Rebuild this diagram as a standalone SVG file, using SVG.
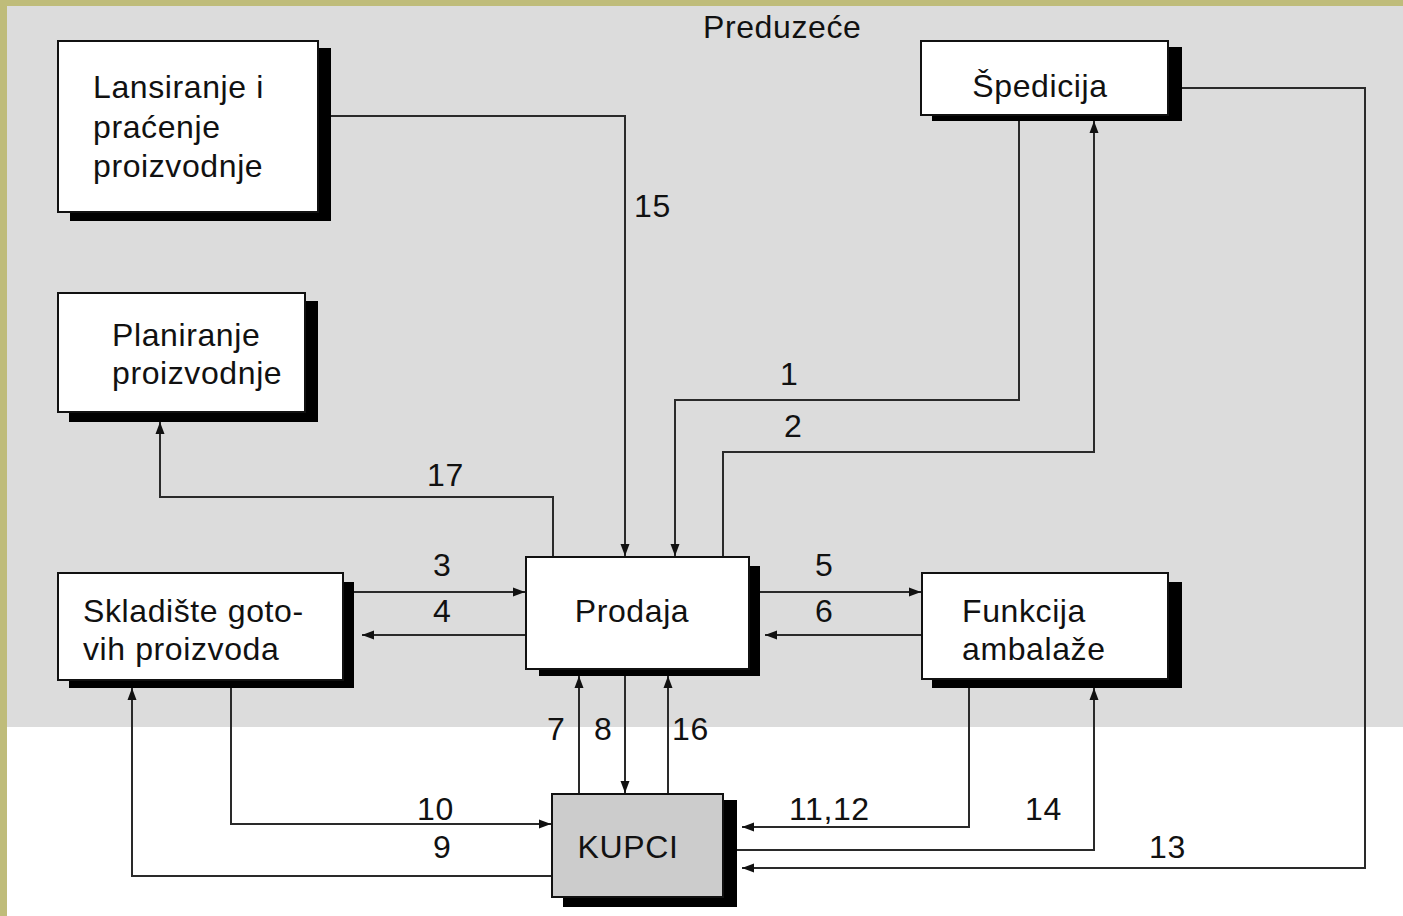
<svg xmlns="http://www.w3.org/2000/svg" width="1403" height="916" viewBox="0 0 1403 916">
<defs>
<marker id="arr" markerUnits="userSpaceOnUse" markerWidth="13" markerHeight="11" refX="12" refY="5.5" orient="auto">
<path d="M0,1 L12,5.5 L0,10 z" fill="#111"/>
</marker>
<style>
.box{fill:#fff;stroke:#111;stroke-width:2}
.kup{fill:#ccc;stroke:#111;stroke-width:2}
.sh{fill:#000}
.t{font-family:"Liberation Sans",Arial,sans-serif;font-size:32px;fill:#111;letter-spacing:0.6px}
.c{fill:none;stroke:#2a2a2a;stroke-width:2;marker-end:url(#arr)}
</style>
</defs>
<rect x="0" y="0" width="1403" height="916" fill="#BFBC7A"/>
<rect x="7" y="6" width="1396" height="721" fill="#DCDCDC"/>
<rect x="7" y="727" width="1396" height="189" fill="#FFFFFF"/>
<text class="t" x="703" y="38">Preduzeće</text>

<g id="connectors">
<path class="c" d="M331,116 H625 V556"/>
<path class="c" d="M1019,121 V400 H675 V556"/>
<path class="c" d="M723,556 V452 H1094 V121"/>
<path class="c" d="M553,556 V497 H160 V422"/>
<path class="c" d="M354,592 H525"/>
<path class="c" d="M525,635 H362"/>
<path class="c" d="M760,592 H921"/>
<path class="c" d="M921,635 H765"/>
<path class="c" d="M579,793 V676"/>
<path class="c" d="M625,669 V793"/>
<path class="c" d="M668,793 V676"/>
<path class="c" d="M231,688 V824 H551"/>
<path class="c" d="M551,876 H132 V688"/>
<path class="c" d="M969,688 V827 H742"/>
<path class="c" d="M737,850 H1094 V688"/>
<path class="c" d="M1182,88 H1365 V868 H742"/>
<text class="t" x="634" y="217">15</text>
<text class="t" x="780" y="385">1</text>
<text class="t" x="784" y="437">2</text>
<text class="t" x="427" y="486">17</text>
<text class="t" x="433" y="576">3</text>
<text class="t" x="433" y="622">4</text>
<text class="t" x="815" y="576">5</text>
<text class="t" x="815" y="622">6</text>
<text class="t" x="547" y="740">7</text>
<text class="t" x="594" y="740">8</text>
<text class="t" x="672" y="740">16</text>
<text class="t" x="417" y="820">10</text>
<text class="t" x="433" y="858">9</text>
<text class="t" x="789" y="820">11,12</text>
<text class="t" x="1025" y="820">14</text>
<text class="t" x="1149" y="858">13</text>
</g>

<g id="lansiranje">
<rect class="sh" x="70" y="48" width="261" height="173"/>
<rect class="box" x="58" y="41" width="260" height="171"/>
<text class="t" x="93" y="98">Lansiranje i</text>
<text class="t" x="93" y="138">praćenje</text>
<text class="t" x="93" y="177">proizvodnje</text>
</g>

<g id="spedicija">
<rect class="sh" x="932" y="47" width="250" height="74"/>
<rect class="box" x="921" y="41" width="247" height="74"/>
<text class="t" x="1040" y="97" text-anchor="middle">Špedicija</text>
</g>

<g id="planiranje">
<rect class="sh" x="69" y="301" width="249" height="121"/>
<rect class="box" x="58" y="293" width="247" height="119"/>
<text class="t" x="112" y="346">Planiranje</text>
<text class="t" x="112" y="384">proizvodnje</text>
</g>

<g id="skladiste">
<rect class="sh" x="69" y="582" width="285" height="106"/>
<rect class="box" x="58" y="573" width="285" height="107"/>
<text class="t" x="83" y="622">Skladište goto-</text>
<text class="t" x="83" y="660">vih proizvoda</text>
</g>

<g id="prodaja">
<rect class="sh" x="539" y="566" width="221" height="110"/>
<rect class="box" x="526" y="557" width="223" height="112"/>
<text class="t" x="632" y="622" text-anchor="middle">Prodaja</text>
</g>

<g id="funkcija">
<rect class="sh" x="932" y="582" width="250" height="106"/>
<rect class="box" x="922" y="573" width="246" height="106"/>
<text class="t" x="962" y="622">Funkcija</text>
<text class="t" x="962" y="660">ambalaže</text>
</g>

<g id="kupci">
<rect class="sh" x="563" y="800" width="174" height="107"/>
<rect class="kup" x="552" y="794" width="171" height="103"/>
<text class="t" x="628" y="858" text-anchor="middle">KUPCI</text>
</g>
</svg>
